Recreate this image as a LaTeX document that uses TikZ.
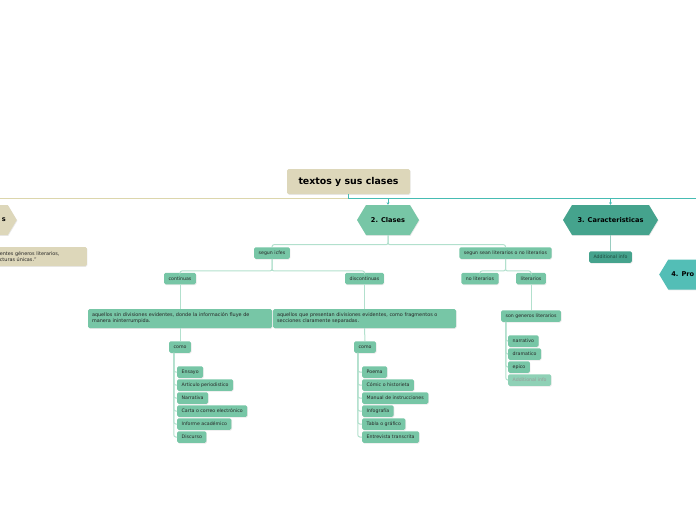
\documentclass[tikz,border=0pt]{standalone}
\usepackage{fontspec}
\setmainfont{DejaVu Sans}
\usetikzlibrary{shapes.symbols}
\usetikzlibrary{shadows}
\usetikzlibrary{arrows.meta}
\usepackage{xcolor}

\definecolor{mmbeige}{HTML}{DDD7BA}
\definecolor{mmbeigeline}{HTML}{DCD6AC}
\definecolor{mmgreen}{HTML}{77C6A6}
\definecolor{mmpale}{HTML}{8FD1B6}
\definecolor{mmdark}{HTML}{45A38D}
\definecolor{mmteal}{HTML}{53BEB6}
\definecolor{mmtealline}{HTML}{46BCB3}
\definecolor{mmmint}{HTML}{B2E0CD}

\begin{document}
\begin{tikzpicture}[x=1pt, y=-1pt,
					sh/.style={drop shadow={shadow xshift=0.6pt, shadow yshift=-0.8pt, opacity=0.18}},
					topic/.style={rectangle, rounded corners=1.5pt, fill=mmbeige, sh, font=\fontsize{9.4}{11}\selectfont\bfseries, minimum width=123pt, minimum height=25pt},
					hexa/.style={signal, signal to=west and east, signal pointer angle=118, sh, font=\fontsize{6.6}{8}\selectfont\bfseries, minimum height=30pt, inner xsep=3pt},
					leaf/.style={rectangle, rounded corners=1.5pt, fill=mmgreen, sh, text=black!85, font=\fontsize{4.7}{5.8}\selectfont, inner xsep=4.5pt, inner ysep=0pt, minimum height=11.5pt},
					para/.style={leaf, align=left, inner xsep=4pt, minimum height=19pt, font=\fontsize{4.9}{6}\selectfont},
					link/.style={draw=mmmint, line width=1pt, rounded corners=2pt},
					]
					
					\useasboundingbox (0,0) rectangle (696,520);
					\clip (0,0) rectangle (696,520);
					
					%Nodes
					\node[topic] (title) at (348.5,181.5) {textos y sus clases};
					\node[hexa, fill=mmbeige, anchor=east, text width=40pt, align=right, inner xsep=2pt] (intro) at (17,220) {s};
					\node[para, fill=mmbeige, anchor=east, text width=83pt] (cita) at (87,256.5) {entes géneros literarios,\\cturas únicas.”};
					\node[hexa, fill=mmgreen, minimum width=62pt] (clases) at (388,220) {2. Clases};
					\node[hexa, fill=mmdark, minimum width=95pt] (caract) at (610.5,220) {3. Caracteristicas};
					\node[hexa, fill=mmteal, anchor=west, text width=60pt, align=left] (prop) at (659,274.5) {4. Pro};
					\node[leaf, fill=mmdark, text=black!55!mmdark] (addcar) at (610.5,257) {Additional info};
					
					\node[leaf] (icfes) at (272,253) {segun icfes};
					\node[leaf] (sean)  at (505.5,253) {segun sean literarios o no literarios};
					
					\node[leaf] (cont)  at (180,278.5) {continuas};
					\node[leaf] (disc)  at (364.5,278.5) {discontinuas};
					\node[para, text width=176pt] (sindiv) at (180,318.5) {aquellos sin divisiones evidentes, donde la información fluye de\\manera ininterrumpida.};
					\node[para, text width=175pt] (condiv) at (364.5,318.5) {aquellos que presentan divisiones evidentes, como fragmentos o\\secciones claramente separadas.};
					\node[leaf] (comoa) at (180,347) {como};
					\node[leaf] (comob) at (365,347) {como};
					
					\node[leaf, anchor=west] (ensayo)  at (177,372) {Ensayo};
					\node[leaf, anchor=west] (articulo) at (177,385) {Articulo periodistico};
					\node[leaf, anchor=west] (narrativa) at (177,398) {Narrativa};
					\node[leaf, anchor=west] (carta)   at (177,411) {Carta o correo electrónico};
					\node[leaf, anchor=west] (informe) at (177,424) {Informe académico};
					\node[leaf, anchor=west] (discurso) at (177,437) {Discurso};
					
					\node[leaf, anchor=west] (poema)   at (362,372) {Poema};
					\node[leaf, anchor=west] (comic)   at (362,385) {Cómic o historieta};
					\node[leaf, anchor=west] (manual)  at (362,398) {Manual de instrucciones};
					\node[leaf, anchor=west] (infog)   at (362,411) {Infografía};
					\node[leaf, anchor=west] (tabla)   at (362,424) {Tabla o gráfico};
					\node[leaf, anchor=west] (entrev)  at (362,437) {Entrevista transcrita};
					
					\node[leaf] (nolit) at (480,278.5) {no literarios};
					\node[leaf] (lit)   at (531,278.5) {literarios};
					\node[leaf] (generos) at (531,316) {son generos literarios};
					\node[leaf, anchor=west] (narrativo) at (508,341) {narrativo};
					\node[leaf, anchor=west] (dramatico) at (508,354) {dramatico};
					\node[leaf, anchor=west] (epico)     at (508,367) {epico};
					\node[leaf, anchor=west, fill=mmpale, text=black!40] (addlit) at (508,380) {Additional info};
					
					%Lines
					\coordinate (hub) at (348.5,198);
					\coordinate (lft) at (-10,198);
					\coordinate (rgt) at (706,198);
					\draw[mmbeigeline, line width=0.9pt] (hub) -- (lft);
					\draw[mmtealline, line width=0.9pt] (title.south) -- (hub) -- (rgt);
					\draw[mmtealline, line width=0.9pt, -{Stealth[length=2.5pt, width=3pt]}] (clases.north |- hub) -- (clases.north);
					\draw[mmtealline, line width=0.9pt, -{Stealth[length=2.5pt, width=3pt]}] (caract.north |- hub) -- (caract.north);
					\draw[link, draw=mmdark!55] (caract.south) -- (addcar.north);
					
					\draw[link] (clases.south) -- ++(0,9.5) -| (icfes.north);
					\draw[link] (clases.south) -- ++(0,9.5) -| (sean.north);
					\draw[link] (icfes.south) -- ++(0,12) -| (cont.north);
					\draw[link] (icfes.south) -- ++(0,12) -| (disc.north);
					\draw[link] (cont.south) -- (sindiv.north);
					\draw[link] (disc.south) -- (condiv.north);
					\draw[link] (sindiv.south) -- (comoa.north);
					\draw[link] (condiv.south) -- (comob.north);
					\draw[link] (sean.south) -- ++(0,12) -| (nolit.north);
					\draw[link] (sean.south) -- ++(0,12) -| (lit.north);
					\draw[link] (lit.south) -- (generos.north);
					
					\draw[link] ([xshift=5pt]comoa.south west) |- (ensayo.west);
					\draw[link] ([xshift=5pt]comoa.south west) |- (articulo.west);
					\draw[link] ([xshift=5pt]comoa.south west) |- (narrativa.west);
					\draw[link] ([xshift=5pt]comoa.south west) |- (carta.west);
					\draw[link] ([xshift=5pt]comoa.south west) |- (informe.west);
					\draw[link] ([xshift=5pt]comoa.south west) |- (discurso.west);
					
					\draw[link] ([xshift=4pt]comob.south west) |- (poema.west);
					\draw[link] ([xshift=4pt]comob.south west) |- (comic.west);
					\draw[link] ([xshift=4pt]comob.south west) |- (manual.west);
					\draw[link] ([xshift=4pt]comob.south west) |- (infog.west);
					\draw[link] ([xshift=4pt]comob.south west) |- (tabla.west);
					\draw[link] ([xshift=4pt]comob.south west) |- (entrev.west);
					
					\draw[link] ([xshift=5pt]generos.south west) |- (narrativo.west);
					\draw[link] ([xshift=5pt]generos.south west) |- (dramatico.west);
					\draw[link] ([xshift=5pt]generos.south west) |- (epico.west);
					\draw[link] ([xshift=5pt]generos.south west) |- (addlit.west);
				\end{tikzpicture}
\end{document}
